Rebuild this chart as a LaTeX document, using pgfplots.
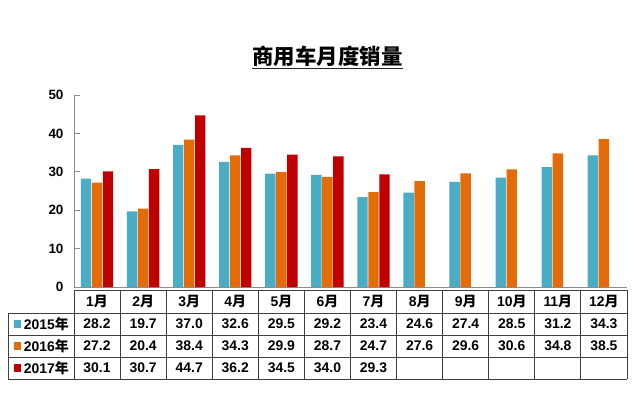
\documentclass[border=0pt]{standalone}
\usepackage{pgfplots}
\pgfplotsset{compat=1.18}
\usepackage{fontspec}
\setmainfont{Liberation Sans}
\newfontfamily\cjk{Noto Sans CJK SC}
\definecolor{cA}{HTML}{4BACC6}
\definecolor{cB}{HTML}{E36C09}
\definecolor{cC}{HTML}{C00000}
\definecolor{axgray}{HTML}{8C8C8C}
\definecolor{tabline}{HTML}{404040}
\begin{document}
\begin{tikzpicture}
\useasboundingbox (-97.04bp,-107bp) rectangle (542.96bp,287bp);
\begin{axis}[
  anchor=origin, at={(0,0)},
  scale only axis, width=552.96bp, height=192bp,
  xmin=-0.5, xmax=11.5, ymin=0, ymax=50,
  ybar=0.6bp, bar width=10.4bp,
  axis x line=bottom, axis y line=left,
  axis line style={-, axgray, line width=0.8pt},
  xtick=\empty, ytick={0,10,...,50},
  tick align=inside, major tick length=6bp,
  tick style={axgray, line width=0.8pt},
  yticklabel style={font=\fontsize{13.5}{13.5}\selectfont\bfseries, xshift=-7bp},
  /pgf/number format/assume math mode=true,
  clip=false,
]
\addplot[fill=cA, draw=none] coordinates {(0,28.2) (1,19.7) (2,37.0) (3,32.6) (4,29.5) (5,29.2) (6,23.4) (7,24.6) (8,27.4) (9,28.5) (10,31.2) (11,34.3)};
\addplot[fill=cB, draw=none] coordinates {(0,27.2) (1,20.4) (2,38.4) (3,34.3) (4,29.9) (5,28.7) (6,24.7) (7,27.6) (8,29.6) (9,30.6) (10,34.8) (11,38.5)};
\addplot[fill=cC, draw=none] coordinates {(0,30.1) (1,30.7) (2,44.7) (3,36.2) (4,34.5) (5,34.0) (6,29.3)};
\end{axis}
% title
\node[font=\cjk\fontsize{21.5}{21.5}\selectfont\bfseries, inner sep=0] (t) at (230.5bp,231bp) {商用车月度销量};
\draw[line width=1.4pt, black!85] (t.west |- 0,218.5bp) -- (t.east |- 0,218.5bp);
% data table
\begin{scope}[x=46.08bp, y=3.84bp, line width=0.9pt, draw=tabline,
  font=\fontsize{14}{14}\selectfont\bfseries]
\draw[tabline] (-0.5,-0.78) -- (11.5,-0.78);
\foreach \yy in {-6.77,-12.5,-18.23,-23.96} \draw[tabline] (-1.932,\yy) -- (11.5,\yy);
\foreach \k in {0,...,12} \draw[tabline] (-0.5+\k,-0.78) -- (-0.5+\k,-23.96);
\draw[tabline] (-1.932,-6.77) -- (-1.932,-23.96);
\foreach \m [count=\i from 0] in {1,...,12} \node at (\i,-3.78) {\m{\cjk 月}};
\foreach \v [count=\i from 0] in {28.2,19.7,37.0,32.6,29.5,29.2,23.4,24.6,27.4,28.5,31.2,34.3} \node at (\i,-9.64) {\v};
\foreach \v [count=\i from 0] in {27.2,20.4,38.4,34.3,29.9,28.7,24.7,27.6,29.6,30.6,34.8,38.5} \node at (\i,-15.36) {\v};
\foreach \v [count=\i from 0] in {30.1,30.7,44.7,36.2,34.5,34.0,29.3} \node at (\i,-21.09) {\v};
\foreach \c/\yy/\yr in {cA/-9.64/2015,cB/-15.36/2016,cC/-21.09/2017}{
  \fill[\c] (-1.726,\yy) ++(-3.6bp,-3.6bp) rectangle ++(7.2bp,7.2bp);
  \node[anchor=west, inner sep=0] at (-1.60,\yy) {\yr{\cjk 年}};
}
\end{scope}
\end{tikzpicture}
\end{document}
